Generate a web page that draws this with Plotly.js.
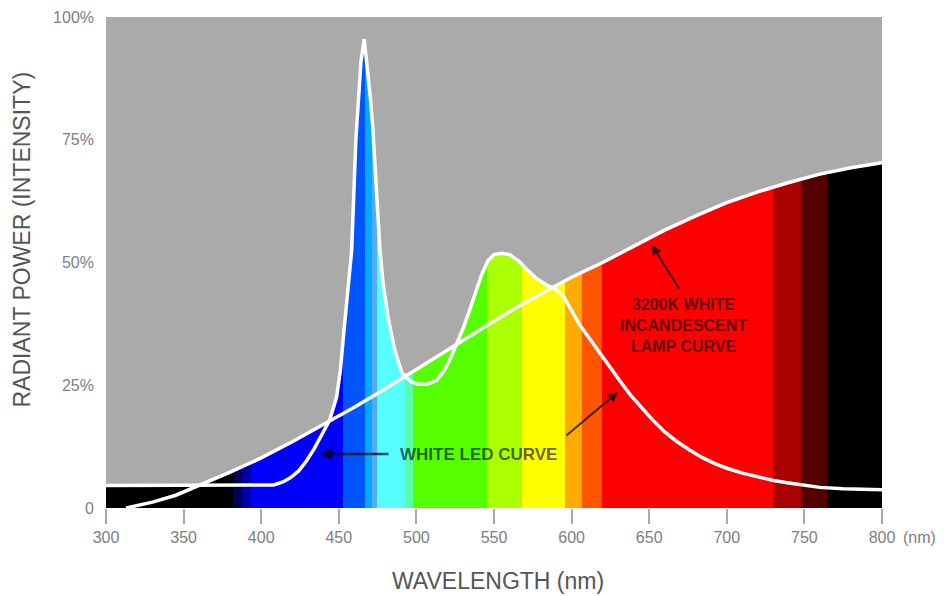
<!DOCTYPE html>
<html>
<head>
<meta charset="utf-8">
<script src="https://cdn.plot.ly/plotly-3.0.1.min.js"></script>
<style>
html,body{margin:0;padding:0;background:#ffffff;}
#chart{width:946px;height:596px;}
</style>
</head>
<body>
<div id="chart"></div>
<script>
// ---- data ----
const ledWavelength = [300, 340, 380, 408, 414, 419, 424, 429, 434, 439, 444, 448.6, 451, 453, 456, 458.3, 461, 462.5, 464.3, 466.4, 468.8, 470.5, 472, 474, 476.5, 478.5, 481.7, 486, 490.7, 496, 501, 507, 513, 518, 522, 526, 530, 534, 538, 542, 546, 550, 555, 560, 566, 572, 578, 584, 590, 595, 600, 605, 610, 615, 620, 626, 632, 638, 645, 652, 660, 668, 676, 684, 692, 700, 710, 720, 730, 740, 750, 760, 775, 790, 800];
const ledPower = [4.6, 4.6, 4.6, 4.7, 5.3, 6.2, 7.5, 9.5, 12, 14.8, 17.8, 22.6, 28, 35, 45.5, 52.5, 75, 83, 91, 95.5, 89, 83, 77, 67, 52.5, 45.8, 38.9, 32.2, 27.5, 25.8, 25.2, 25.2, 26, 28, 30.5, 33.5, 36.5, 40, 44, 47.5, 50.3, 51.6, 51.9, 51.6, 50.3, 48.3, 46.6, 45.4, 44.5, 43, 40.2, 37.4, 35.2, 33, 30.5, 28, 25.5, 23, 20.4, 18, 15.5, 13.5, 11.8, 10.3, 9.1, 8.1, 7.1, 6.3, 5.6, 5.1, 4.6, 4.2, 3.9, 3.7, 3.7];

const lampWavelength = [313, 330, 345, 360, 380, 400, 420, 440, 460, 480, 500, 520, 540, 560, 580, 600, 620, 640, 660, 680, 700, 720, 740, 760, 780, 800];
const lampPower = [0, 1.2, 2.6, 4.6, 7.3, 10.2, 13.5, 17, 20.5, 24.3, 28.2, 32.2, 36, 40, 43.6, 47, 50, 53.3, 56.6, 59.5, 62.2, 64.4, 66.3, 68, 69.3, 70.3];

// spectral colour bands (edges in nm, one colour per band)
const bandEdges = [300, 382, 387.5, 393.5, 453, 467, 471.2, 474.4, 492.7, 497.5, 545.3, 567.8, 595.7, 607, 619.3, 729.8, 747.8, 764.6, 800];
const bandColors = ['#000000', '#000055', '#0000aa', '#0000ff', '#0055ff', '#00aaff', '#55aaff', '#55ffff', '#55ffaa', '#55ff00', '#aaff00', '#ffff00', '#ffaa00', '#ff5500', '#ff0000', '#aa0000', '#550000', '#000000'];

const xTickVals = [300, 350, 400, 450, 500, 550, 600, 650, 700, 750, 800];
const xTickText = ['300', '350', '400', '450', '500', '550', '600', '650', '700', '750', '800'];
const yTickVals = [0, 25, 50, 75, 100];
const yTickText = ['0', '25%', '50%', '75%', '100%'];

// ---- build a stepped colourscale from the bands ----
const lo = bandEdges[0], hi = bandEdges[bandEdges.length - 1];
const bandScale = [];
bandColors.forEach(function (c, i) {
  bandScale.push([(bandEdges[i] - lo) / (hi - lo), c]);
  bandScale.push([(bandEdges[i + 1] - lo) / (hi - lo), c]);
});
bandScale[0][0] = 0;
bandScale[bandScale.length - 1][0] = 1;

const grad = {type: 'horizontal', start: lo, stop: hi, colorscale: bandScale};

const traces = [
  {x: lampWavelength, y: lampPower, type: 'scatter', mode: 'lines', fill: 'tozeroy',
   fillgradient: grad, line: {width: 0, color: 'rgba(0,0,0,0)'}, hoverinfo: 'skip', showlegend: false},
  {x: ledWavelength, y: ledPower, type: 'scatter', mode: 'lines', fill: 'tozeroy',
   fillgradient: grad, line: {width: 0, color: 'rgba(0,0,0,0)'}, hoverinfo: 'skip', showlegend: false},
  {x: lampWavelength, y: lampPower, type: 'scatter', mode: 'lines',
   line: {width: 3.5, color: '#ffffff'}, showlegend: false},
  {x: ledWavelength, y: ledPower, type: 'scatter', mode: 'lines',
   line: {width: 3.5, color: '#ffffff'}, showlegend: false}
];

const FONT = 'Liberation Sans, Arial, sans-serif';
const labelFont = {family: FONT, size: 16, color: 'rgba(0,0,0,0.65)', weight: 'bold'};
const ledFont = {family: FONT, size: 17, color: 'rgba(0,0,0,0.62)', weight: 'bold'};

const layout = {
  width: 946, height: 596,
  margin: {l: 106, r: 64, t: 17, b: 88},
  paper_bgcolor: '#ffffff',
  plot_bgcolor: '#aaaaaa',
  showlegend: false,
  font: {family: FONT},
  xaxis: {
    range: [300, 800], showgrid: false, zeroline: false, showline: false,
    tickmode: 'array', tickvals: xTickVals, ticktext: xTickText,
    ticks: 'outside', ticklen: 15, tickwidth: 2, tickcolor: '#aaaaaa',
    tickfont: {family: FONT, size: 16, color: '#808080'}
  },
  yaxis: {
    range: [0, 100], showgrid: false, zeroline: false, showline: false,
    tickmode: 'array', tickvals: yTickVals, ticktext: yTickText,
    ticks: '', ticklabelstandoff: 11,
    tickfont: {family: FONT, size: 16, color: '#808080'}
  },
  annotations: [
    {xref: 'paper', yref: 'paper', x: (21.5 - 106) / 776, y: (508 - 240) / 491,
     text: 'RADIANT POWER (INTENSITY)', textangle: -90, showarrow: false,
     xanchor: 'center', yanchor: 'middle', font: {family: FONT, size: 23, color: '#555555'}},
    {xref: 'paper', yref: 'paper', x: (497.5 - 106) / 776, y: (508 - 581) / 491,
     text: 'WAVELENGTH (nm)', showarrow: false,
     xanchor: 'center', yanchor: 'middle', font: {family: FONT, size: 23, color: '#555555'}},
    {xref: 'paper', yref: 'paper', x: (901 - 106) / 776, y: (508 - 537) / 491,
     text: '(nm)', showarrow: false, xanchor: 'left', yanchor: 'middle',
     font: {family: FONT, size: 16, color: '#808080'}},
    // LED label + arrows
    {xref: 'x', yref: 'y', x: 540.3, y: 10.8, text: 'WHITE LED CURVE', showarrow: false,
     xanchor: 'center', yanchor: 'middle', font: ledFont},
    {xref: 'x', yref: 'y', axref: 'x', ayref: 'y', x: 437.9, y: 11, ax: 483, ay: 11, text: '',
     showarrow: true, arrowhead: 2, arrowsize: 1, arrowwidth: 2.5, arrowcolor: 'rgba(0,0,0,0.7)'},
    {xref: 'x', yref: 'y', axref: 'x', ayref: 'y', x: 629.9, y: 23.6, ax: 595.7, ay: 14.5, text: '',
     showarrow: true, arrowhead: 2, arrowsize: 1, arrowwidth: 2, arrowcolor: 'rgba(0,0,0,0.7)'},
    // Lamp label + arrow
    {xref: 'x', yref: 'y', x: 671.8, y: 37.1, text: '3200K WHITE<br>INCANDESCENT<br>LAMP CURVE',
     showarrow: false, align: 'center',
     xanchor: 'center', yanchor: 'middle', font: labelFont},
    {xref: 'x', yref: 'y', axref: 'x', ayref: 'y', x: 651.6, y: 53.6, ax: 669.8, ay: 44.4, text: '',
     showarrow: true, arrowhead: 2, arrowsize: 1, arrowwidth: 2, arrowcolor: 'rgba(0,0,0,0.7)'}
  ]
};

Plotly.newPlot('chart', traces, layout, {displayModeBar: false, staticPlot: true});
</script>
</body>
</html>
